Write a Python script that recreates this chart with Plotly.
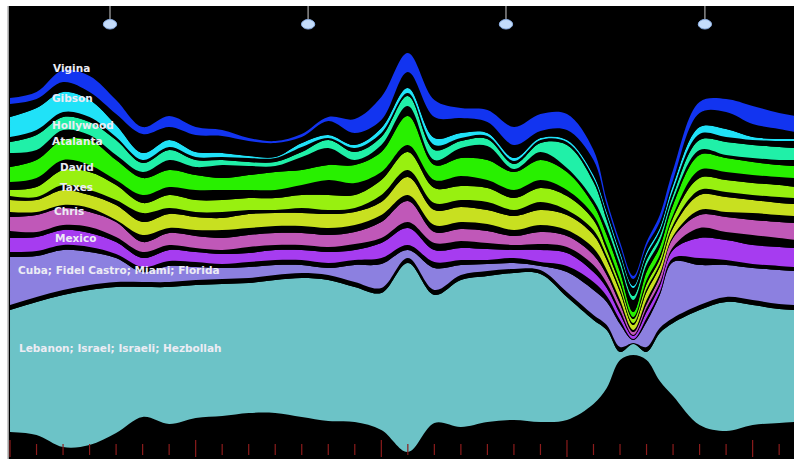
import plotly.graph_objects as go

# ---- data (x = week index, values = stacked layer thickness) ----
weeks = [0, 1, 2, 3, 4, 5, 6, 7, 8, 9, 10, 11, 12, 13, 14, 15, 16, 17, 18, 19, 20, 21, 22,
         22.5, 23, 23.5, 24, 24.5, 25, 26, 27, 28, 29, 29.6]

baseline = [27, 24, 12, 14, 26, 42, 35, 41, 43, 46, 46, 42, 38, 37, 29, 7, 36, 32, 37, 39,
            37, 39, 55, 71, 99, 104, 99, 78, 63, 34, 28, 34, 36, 37]
lebanon = [122, 133, 152, 155, 146, 130, 137, 133, 132, 130, 133, 139, 141, 135, 137, 189, 128, 147, 146, 147,
           148, 123, 84, 58, 8, 11, 8, 48, 73, 115, 129, 120, 114, 112]
gap_lebanon_cuba = [5, 5, 5, 5, 5, 5, 5, 5, 5, 5, 5, 5, 5, 5, 5, 5, 5, 5, 5, 4,
                    4, 5, 5, 5, 5, 1, 5, 5, 5, 5, 5, 5, 5, 5]
cuba = [48, 41, 40, 33, 24, 10, 16, 13, 11, 11, 10, 8, 7, 17, 24, 8, 22, 10, 7, 6,
        4, 20, 25, 23, 23, 3, 25, 33, 56, 40, 32, 32, 34, 34]
gap_cuba_mexico = [5, 5, 5, 5, 4, 5, 5, 5, 4, 5, 5, 5, 5, 5, 6, 5, 6, 5, 4, 5,
                   4, 6, 8, 6, 4, 1, 4, 3, 4, 7, 5, 4, 4, 4]
mexico = [14, 14, 15, 14, 12, 9, 11, 10, 10, 9, 10, 10, 11, 10, 15, 17, 12, 12, 11, 8,
          12, 13, 10, 8, 6, 3, 6, 6, 8, 20, 20, 19, 19, 19]
gap_mexico_chris = [7, 5, 5, 6, 5, 6, 5, 4, 4, 6, 5, 5, 5, 6, 5, 6, 7, 7, 6, 5,
                    6, 6, 7, 5, 4, 1, 4, 3, 3, 10, 8, 10, 9, 8]
chris = [14, 17, 17, 15, 15, 10, 12, 12, 12, 12, 12, 12, 12, 12, 16, 21, 11, 12, 12, 9,
         12, 11, 10, 8, 6, 3, 4, 6, 9, 13, 15, 15, 16, 17]
gap_chris_taxes = [5, 3, 3, 4, 2, 7, 5, 6, 8, 7, 7, 7, 7, 7, 7, 6, 7, 7, 7, 6,
                   7, 6, 7, 5, 4, 2, 4, 3, 2, 5, 5, 7, 7, 7]
taxes = [12, 12, 15, 13, 15, 13, 14, 13, 12, 14, 13, 13, 14, 13, 13, 18, 15, 15, 14, 14,
         15, 15, 13, 10, 8, 5, 8, 7, 8, 15, 15, 13, 12, 12]
gap_taxes_david = [4, 3, 5, 5, 5, 9, 6, 5, 6, 4, 3, 5, 4, 4, 7, 7, 7, 7, 8, 6,
                   8, 5, 5, 4, 3, 2, 3, 3, 3, 5, 5, 5, 6, 6]
david = [6, 10, 15, 18, 15, 10, 13, 12, 12, 12, 12, 13, 15, 13, 15, 18, 15, 14, 14, 12,
         14, 14, 10, 6, 5, 4, 5, 5, 7, 12, 12, 12, 12, 11]
gap_david_atalanta = [8, 9, 10, 7, 5, 8, 8, 10, 10, 8, 8, 10, 15, 12, 8, 7, 8, 10, 8, 8,
                      8, 6, 5, 5, 4, 2, 4, 4, 3, 8, 8, 8, 8, 9]
atalanta = [15, 18, 20, 25, 20, 17, 17, 15, 12, 15, 18, 15, 15, 18, 20, 29, 15, 18, 20, 18,
            20, 18, 10, 10, 8, 5, 8, 8, 10, 15, 14, 13, 12, 12]
gap_atalanta_hollywood = [14, 10, 10, 5, 5, 6, 10, 8, 13, 9, 6, 13, 17, 5, 7, 10, 5, 10, 14, 3,
                          8, 4, 5, 7, 7, 12, 7, 6, 5, 5, 3, 4, 5, 6]
hollywood = [11, 15, 13, 13, 15, 9, 10, 7, 5, 4, 4, 5, 8, 8, 8, 10, 10, 7, 7, 5,
             9, 23, 18, 8, 5, 4, 5, 5, 5, 10, 13, 13, 13, 12]
gap_hollywood_gibson = [5, 5, 5, 5, 3, 3, 3, 3, 3, 4, 4, 5, 2, 4, 4, 3, 5, 3, 3, 3,
                        3, 3, 4, 5, 5, 8, 5, 5, 5, 6, 5, 5, 6, 7]
gibson = [20, 22, 20, 17, 12, 7, 7, 5, 4, 2, 1, 4, 3, 3, 5, 5, 7, 5, 3, 3,
          2, 2, 3, 3, 3, 2, 3, 3, 5, 7, 8, 3, 2, 2]
gap_gibson_vigina = [13, 9, 10, 8, 11, 19, 13, 17, 17, 15, 14, 6, 14, 12, 8, 16, 21, 15, 11, 13,
                     7, 10, 15, 7, 6, 7, 6, 6, 5, 14, 17, 13, 10, 7]
vigina = [6, 7, 12, 16, 14, 7, 11, 8, 6, 3, 2, 3, 4, 14, 23, 19, 17, 10, 12, 18,
          17, 16, 10, 5, 4, 3, 4, 7, 10, 11, 13, 18, 16, 16]

tick_weeks = list(range(30))
event_weeks = [3.77, 11.24, 18.7, 26.2]

labels = ["Vigina", "Gibson", "Hollywood", "Atalanta", "David", "Taxes", "Chris", "Mexico",
          "Cuba; Fidel Castro; Miami; Florida", "Lebanon; Israel; Israeli; Hezbollah"]

# ---- figure ----
W, H = 794, 459
ML, MT = 9, 6
X0 = -0.038
X1 = 29.56
YMAX = 453

BLACK = "#000000"
stack = [
    ("base", baseline, BLACK),
    ("Lebanon", lebanon, "#6cc3c7"),
    ("g1", gap_lebanon_cuba, BLACK),
    ("Cuba", cuba, "#8c80e0"),
    ("g2", gap_cuba_mexico, BLACK),
    ("Mexico", mexico, "#a63cf0"),
    ("g3", gap_mexico_chris, BLACK),
    ("Chris", chris, "#c058b8"),
    ("g4", gap_chris_taxes, BLACK),
    ("Taxes", taxes, "#c8e020"),
    ("g5", gap_taxes_david, BLACK),
    ("David", david, "#98f010"),
    ("g6", gap_david_atalanta, BLACK),
    ("Atalanta", atalanta, "#28f000"),
    ("g7", gap_atalanta_hollywood, BLACK),
    ("Hollywood", hollywood, "#20f0a8"),
    ("g8", gap_hollywood_gibson, BLACK),
    ("Gibson", gibson, "#20e2f8"),
    ("g9", gap_gibson_vigina, BLACK),
    ("Vigina", vigina, "#1234f0"),
]

fig = go.Figure()
for name, vals, color in stack:
    fig.add_trace(go.Scatter(
        x=weeks, y=vals, name=name, stackgroup="river", mode="lines",
        line=dict(width=0, shape="spline", smoothing=1.0, color=color),
        fillcolor=color, hoverinfo="skip", showlegend=False))

shapes = []
# bottom week ticks
for w in tick_weeks:
    major = (w % 7 == 0)
    shapes.append(dict(type="line", xref="x", yref="y", x0=w, x1=w,
                       y0=2 if major else 4, y1=19 if major else 15,
                       line=dict(color="#8c1c1c", width=1.2), layer="above"))
# event pins at top
for w in event_weeks:
    shapes.append(dict(type="line", xref="x", yref="y", x0=w, x1=w, y0=440, y1=YMAX,
                       line=dict(color="#8a8a8a", width=1.5), layer="above"))
    shapes.append(dict(type="circle", xref="x", yref="y",
                       x0=w - 0.25, x1=w + 0.25, y0=430, y1=439.5,
                       fillcolor="#c4dcfb", line=dict(color="#90b4ea", width=1), layer="above"))
# grey left edge
shapes.append(dict(type="line", xref="paper", yref="paper", x0=-0.001, x1=-0.001, y0=0, y1=1,
                   line=dict(color="#9a9a9a", width=1.5)))

def px_to_x(px):
    return (px - 10) / 26.52

def py_to_y(py):
    return H - py

label_pos = [(51, 68), (50, 98), (50, 125), (50, 141), (58, 167), (58, 187),
             (52, 211), (53, 238), (16, 270), (17, 348)]
annotations = []
for text, (lx, ly) in zip(labels, label_pos):
    annotations.append(dict(
        x=px_to_x(lx), y=py_to_y(ly), xref="x", yref="y", text="<b>" + text + "</b>",
        showarrow=False, xanchor="left", yanchor="middle",
        font=dict(family="DejaVu Sans, Verdana, sans-serif", size=10.5, color="#ececf4")))

fig.update_layout(
    width=W, height=H,
    margin=dict(l=ML, r=0, t=MT, b=0, pad=0),
    paper_bgcolor="#ffffff", plot_bgcolor="#000000",
    xaxis=dict(range=[X0, X1], visible=False, fixedrange=True),
    yaxis=dict(range=[0, YMAX], visible=False, fixedrange=True),
    shapes=shapes, annotations=annotations, showlegend=False,
)

fig.write_html("out.html", config={"displayModeBar": False},
               post_script="document.body.style.margin='0';document.body.style.overflow='hidden';")
